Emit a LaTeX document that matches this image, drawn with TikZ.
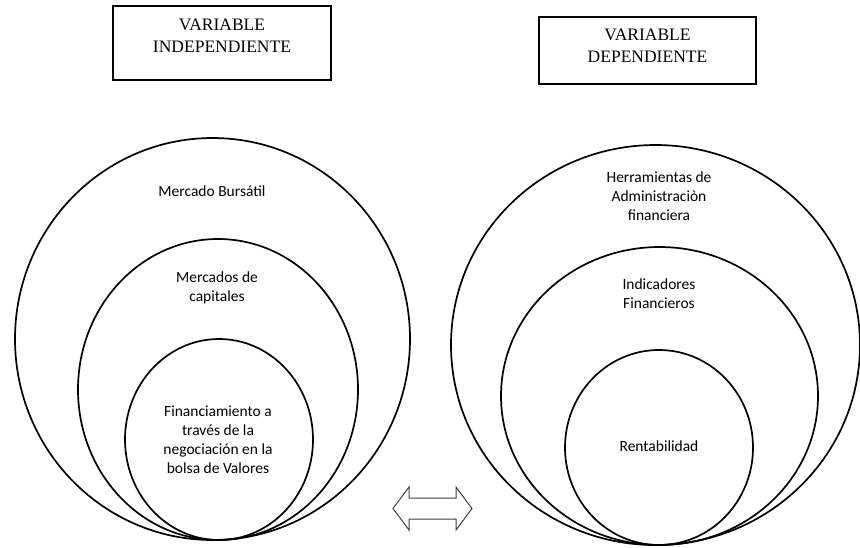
\documentclass[tikz,border=0pt]{standalone}
\usepackage{fontspec}
\setmainfont{Liberation Serif}
\newfontfamily\calfont{Carlito}
\usetikzlibrary{positioning}

\begin{document}
\begin{tikzpicture}[x=1pt,y=-1pt,
    varbox/.style={draw,line width=1.2pt,inner sep=0pt},
    vartxt/.style={align=center,inner sep=0pt,font=\fontsize{17.5}{22}\selectfont},
    ring/.style={line width=1.7pt},
    ringtxt/.style={align=center,inner sep=0pt,font=\calfont\fontsize{15.5}{19}\selectfont}]
  \useasboundingbox (0,0) rectangle (860,547);

  % --- cajas de las variables
  \node[varbox,minimum width=218pt,minimum height=74pt] (indep) at (222,43) {};
  \node[vartxt,below=13pt of indep.north] (indeptxt) {VARIABLE\\INDEPENDIENTE};
  \node[varbox,minimum width=217pt,minimum height=67pt] (dep) at (647.5,50.5) {};
  \node[vartxt,below=12pt of dep.north] (deptxt) {VARIABLE\\DEPENDIENTE};

  % --- variable independiente
  \draw[ring] (212.5,339) ellipse [x radius=197.5, y radius=201];
  \draw[ring] (218,389.5) ellipse [x radius=140, y radius=150.5];
  \draw[ring] (219,439.5) ellipse [x radius=94, y radius=100.5];
  \node[ringtxt] (bursatil) at (212,191) {Mercado Bursátil};
  \node[ringtxt] (capitales) at (217,288) {Mercados de\\capitales};
  \node[ringtxt] (financ) at (218,440) {Financiamiento a\\través de la\\negociación en la\\bolsa de Valores};

  % --- variable dependiente
  \draw[ring] (655.5,345) ellipse [x radius=204.5, y radius=200];
  \draw[ring] (659.5,396) ellipse [x radius=158.5, y radius=149];
  \draw[ring] (659,447.5) ellipse [x radius=94, y radius=97.5];
  \node[ringtxt] (herram) at (659,196) {Herramientas de\\Administraciòn\\financiera};
  \node[ringtxt] (indic) at (659,294) {Indicadores\\Financieros};
  \node[ringtxt] (rentab) at (659,446) {Rentabilidad};

  % --- flecha doble
  \draw[black!75,line width=1pt,line join=miter]
       (393,508.5) -- (409,487) -- (409,498) -- (456,498) -- (456,487)
       -- (472,508.5) -- (456,530) -- (456,519) -- (409,519) -- (409,530) -- cycle;
\end{tikzpicture}
\end{document}
